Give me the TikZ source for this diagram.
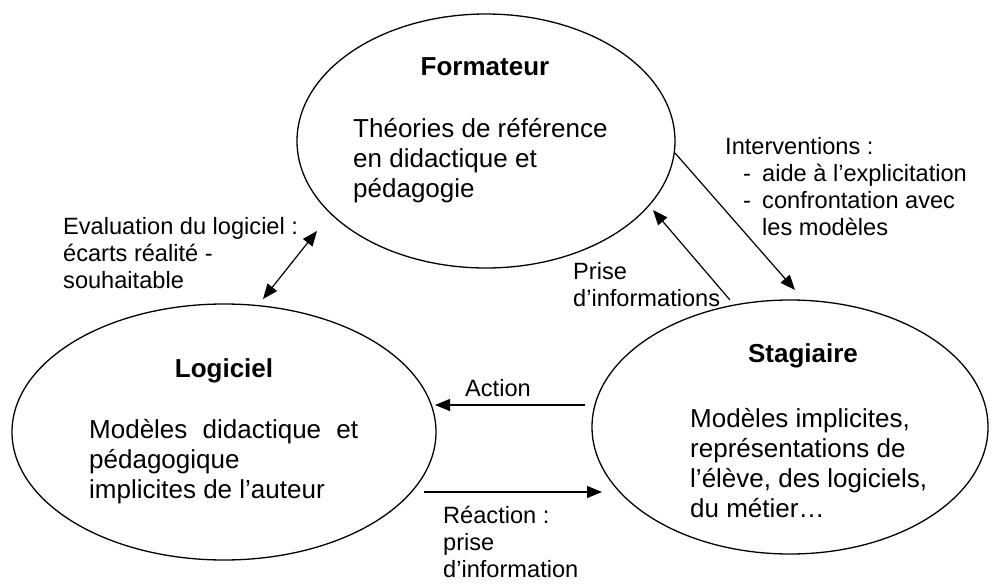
\documentclass[tikz,border=0pt]{standalone}
\usepackage{fontspec}
\setmainfont{Liberation Sans}
\usetikzlibrary{shapes.geometric,arrows.meta}

\begin{document}
\begin{tikzpicture}[x=1pt, y=-1pt,
    bulle/.style={ellipse, draw, line width=1.3pt, inner sep=0pt},
    titre/.style={font=\fontsize{26}{30}\selectfont\bfseries, anchor=base, inner sep=0pt},
    texte/.style={font=\fontsize{26}{30}\selectfont, align=left, anchor=north west, inner sep=0pt},
    etiq/.style={font=\fontsize{23.6}{27}\selectfont, align=left, anchor=north west, inner sep=0pt},
    fleche/.style={line width=1.2pt, -{Triangle[length=15pt, width=12pt]}}]
    \useasboundingbox (0,0) rectangle (992,583);
    % les trois pôles
    \node[bulle, minimum width=378pt, minimum height=254pt] (formateur) at (486,141) {};
    \node[bulle, minimum width=424pt, minimum height=256pt] (logiciel) at (224,432) {};
    \node[bulle, minimum width=396pt, minimum height=254pt] (stagiaire) at (790,427) {};
    \node[titre] (tformateur) at (485,76) {Formateur};
    \node[titre] (tlogiciel) at (224,377) {Logiciel};
    \node[titre] (tstagiaire) at (803,362) {Stagiaire};
    \node[texte] (cformateur) at (353,118) {Théories de référence\\en didactique et\\pédagogie};
    \node[texte] (clogiciel) at (89,419) {\makebox[269pt][s]{Modèles didactique et}\\pédagogique\\implicites de l’auteur};
    \node[texte] (cstagiaire) at (690,408) {Modèles implicites,\\représentations de\\l’élève, des logiciels,\\du métier…};
    % bouts des flèches
    \coordinate (evalbas) at (263,299);
    \coordinate (evalhaut) at (317,231);
    \coordinate (intdep) at (675,153);
    \coordinate (intarr) at (795,290);
    \coordinate (prisedep) at (730,300);
    \coordinate (prisearr) at (653,210);
    \coordinate (actdep) at (585,405);
    \coordinate (actarr) at (435,405);
    \coordinate (reacdep) at (424,492);
    \coordinate (reacarr) at (602,492);
    \draw[fleche, {Triangle[length=15pt, width=12pt]}-{Triangle[length=15pt, width=12pt]}] (evalbas) -- (evalhaut);
    \draw[fleche] (intdep) -- (intarr);
    \draw[fleche] (prisedep) -- (prisearr);
    \draw[fleche] (actdep) -- (actarr);
    \draw[fleche] (reacdep) -- (reacarr);
    % étiquettes
    \node[etiq] (leval) at (63,217) {Evaluation du logiciel :\\écarts réalité -\\souhaitable};
    \node[etiq] (linter) at (725,137) {Interventions :\\\hspace*{18pt}\makebox[19pt][l]{-}aide à l’explicitation\\\hspace*{18pt}\makebox[19pt][l]{-}confrontation avec\\\hspace*{37pt}les modèles};
    \node[etiq] (lprise) at (573,262) {Prise\\d’informations};
    \node[etiq, anchor=base west] (laction) at (465,396) {Action};
    \node[etiq] (lreaction) at (443,506) {Réaction :\\prise\\d’information};
\end{tikzpicture}
\end{document}
